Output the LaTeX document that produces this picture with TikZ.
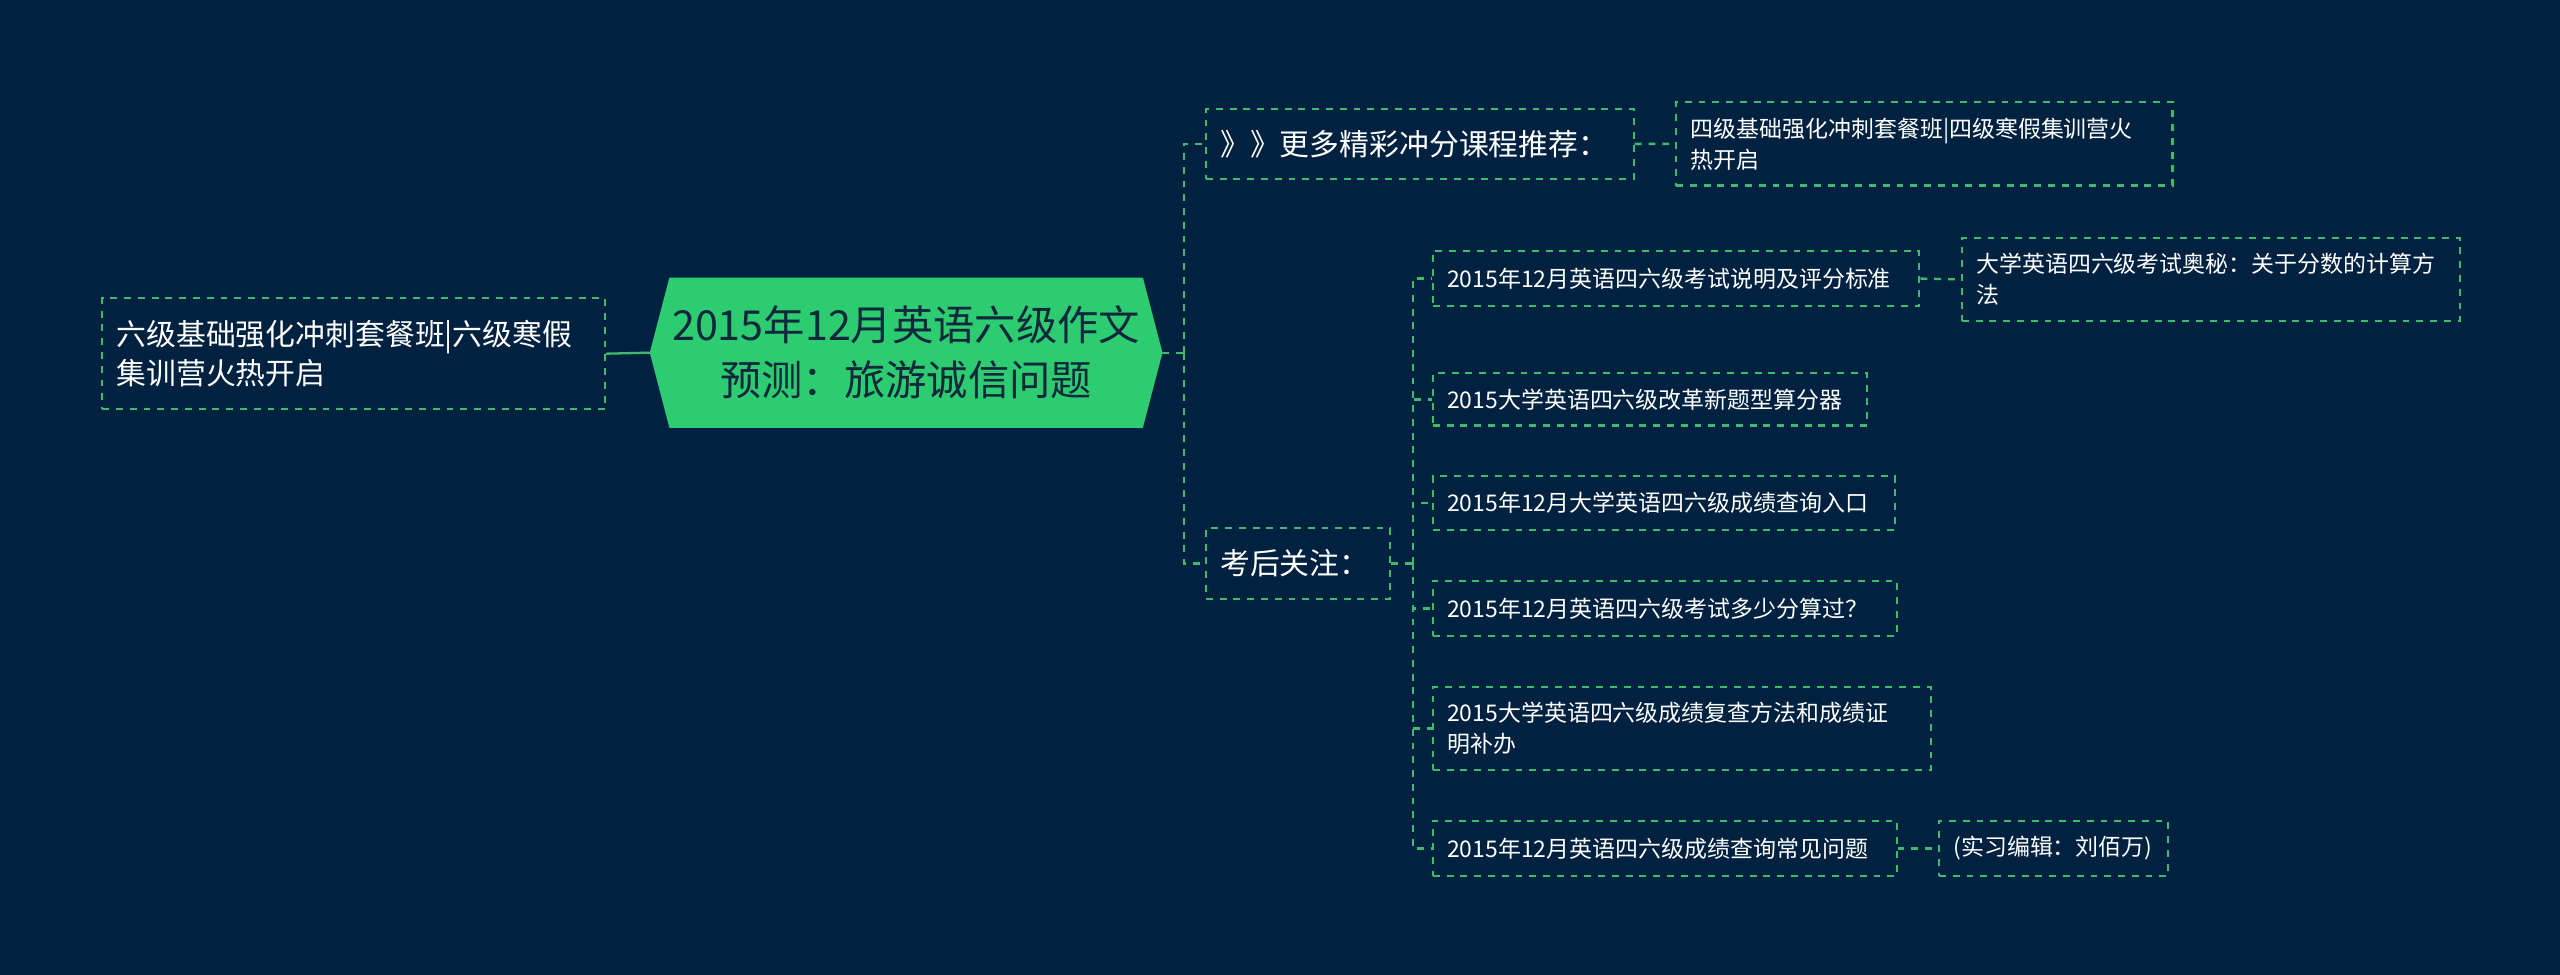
\documentclass[tikz,border=0pt]{standalone}
\usepackage{fontspec}
\setmainfont{Noto Sans CJK SC}
\usetikzlibrary{positioning}
\definecolor{bg}{RGB}{0,34,64}
\definecolor{leaf}{RGB}{46,204,113}
\definecolor{edge}{RGB}{61,187,106}
\definecolor{ink}{RGB}{16,40,60}
\tikzset{
  box/.style={draw=edge, dashed, line width=0.9pt, text=white, align=left,
    anchor=north west, inner xsep=0.22cm, inner ysep=0pt, font=\fontsize{10}{13.5}\selectfont},
  bigbox/.style={box, font=\fontsize{13}{17}\selectfont},
  link/.style={draw=edge, dashed, line width=1pt}
}
\begin{document}
\begin{tikzpicture}
  \fill[bg] (0,0) rectangle (39.2,-14.925);
  \useasboundingbox (0,0) rectangle (39.2,-14.925);

  % central topic
  \fill[leaf] (9.95,-5.4) -- (10.25,-4.25) -- (17.5,-4.25) -- (17.8,-5.4)
    -- (17.5,-6.55) -- (10.25,-6.55) -- cycle;
  \node[text=ink, align=center, font=\fontsize{18}{24}\selectfont] (c) at (13.875,-5.4)
    {2015年12月英语六级作文\\预测：旅游诚信问题};
  \coordinate (cR) at (17.8,-5.4);
  \coordinate (cL) at (9.95,-5.4);

  % left branch
  \node[bigbox, text width=7.26cm, minimum height=1.7cm] (lft) at (1.55,-4.55)
    {六级基础强化冲刺套餐班|六级寒假\\集训营火热开启};

  % right branches
  \node[bigbox, text width=6.11cm, minimum height=1.075cm] (more) at (18.45,-1.65)
    {》》更多精彩冲分课程推荐：};
  \node[box, text width=7.16cm, minimum height=1.275cm] (sj) at (25.65,-1.55)
    {四级基础强化冲刺套餐班|四级寒假集训营火\\热开启};
  \node[bigbox, text width=2.385cm, minimum height=1.075cm] (kh) at (18.45,-8.075)
    {考后关注：};

  \node[box, text width=7.01cm, minimum height=0.85cm] (a1) at (21.925,-3.825)
    {2015年12月英语四六级考试说明及评分标准};
  \node[box, text width=7.185cm, minimum height=1.275cm] (a1b) at (30.025,-3.625)
    {大学英语四六级考试奥秘：关于分数的计算方\\法};
  \node[box, text width=6.21cm, minimum height=0.8cm] (a2) at (21.925,-5.7)
    {2015大学英语四六级改革新题型算分器};
  \node[box, text width=6.635cm, minimum height=0.825cm] (a3) at (21.925,-7.275)
    {2015年12月大学英语四六级成绩查询入口};
  \node[box, text width=6.66cm, minimum height=0.85cm] (a4) at (21.925,-8.875)
    {2015年12月英语四六级考试多少分算过？};
  \node[box, text width=7.185cm, minimum height=1.275cm] (a5) at (21.925,-10.5)
    {2015大学英语四六级成绩复查方法和成绩证\\明补办};
  \node[box, text width=6.66cm, minimum height=0.85cm] (a6) at (21.925,-12.55)
    {2015年12月英语四六级成绩查询常见问题};
  \node[box, text width=3.06cm, minimum height=0.85cm] (a6b) at (29.675,-12.55)
    {(实习编辑：刘佰万)};

  % connectors
  \draw[draw=edge, line width=1pt] (cL) -- (lft.east);
  \draw[link] (cR) -- ++(0.325,0) coordinate (j1);
  \draw[link] (j1) |- (more.west);
  \draw[link] (j1) |- (kh.west);
  \draw[link] (more.east) -- (sj.west);
  \draw[link] (kh.east) -- ++(0.325,0) coordinate (j2);
  \foreach \n in {a1,a2,a3,a4,a5,a6}
    \draw[link] (j2) |- (\n.west);
  \draw[link] (a1.east) -- (a1b.west);
  \draw[link] (a6.east) -- (a6b.west);
\end{tikzpicture}
\end{document}
